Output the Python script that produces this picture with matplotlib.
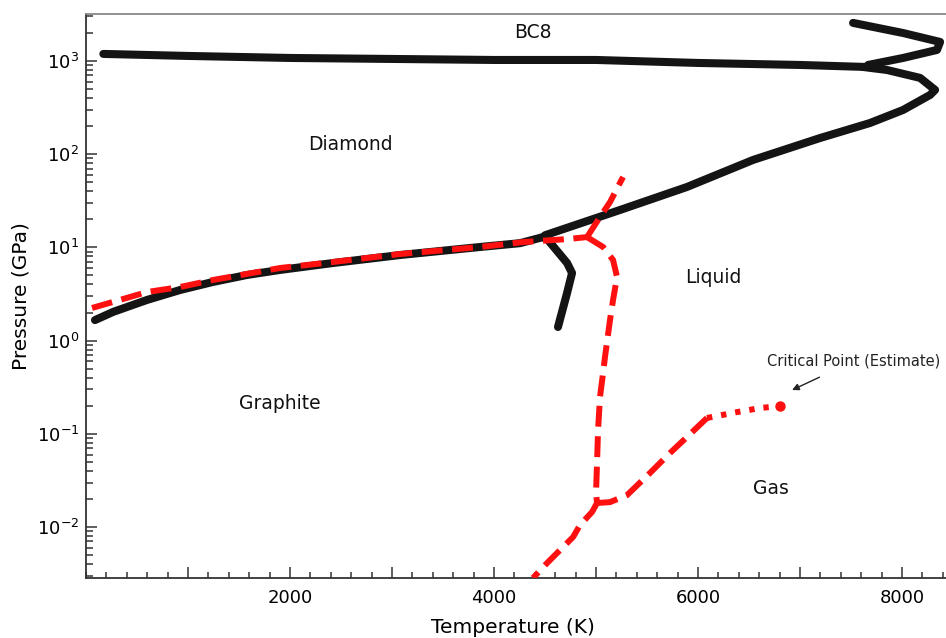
import math
import matplotlib
matplotlib.use("Agg")
import matplotlib.pyplot as plt
from matplotlib.ticker import FixedLocator, MultipleLocator, FuncFormatter, LogLocator, NullFormatter

plt.rcParams['font.family'] = ['DejaVu Sans']
plt.rcParams['mathtext.default'] = 'regular'

# ---- data (Temperature K, Pressure GPa) ----
# diamond / BC8 boundary
bc8_T = [170, 1000, 2000, 3000, 4000, 5000, 6000, 7000, 7650]
bc8_P = [1190, 1132, 1077, 1051, 1025, 1025, 952, 906, 862]
# BC8 / liquid boundary (loop)
bc8liq_T = [7520, 8010, 8373, 8343, 8010, 7667]
bc8liq_P = [2560, 1995, 1600, 1313, 1077, 906]
# diamond / liquid boundary
dliq_T = [7618, 7853, 8177, 8324, 8275, 8010, 7686, 7196, 6539, 5892, 5235, 4500]
dliq_P = [862, 800, 658, 489, 432, 298, 216, 149, 86.7, 44.5, 25.2, 13.5]
# graphite / diamond boundary (black)
gd_T = [88, 265, 598, 922, 1245, 1578, 1902, 2422, 3078, 3863, 4255, 4480]
gd_P = [1.66, 2.03, 2.73, 3.49, 4.26, 5.06, 5.73, 6.80, 8.28, 10.1, 11.1, 12.9]
# graphite / liquid boundary (black)
gl_T = [4480, 4529, 4716, 4765, 4716, 4627]
gl_P = [12.9, 12.0, 6.81, 5.31, 3.24, 1.40]

# red dashed: graphite / diamond
rgd_T = [59, 265, 598, 922, 1245, 1578, 1902, 2422, 3078, 3863, 4284, 4725, 4912]
rgd_P = [2.24, 2.60, 3.32, 3.76, 4.47, 5.19, 6.01, 6.97, 8.49, 10.1, 11.4, 12.3, 12.9]
# red dashed: upward branch from triple point
rup_T = [4912, 5039, 5137, 5265]
rup_P = [12.9, 21.2, 30.6, 56.9]
# red dashed: melting line down to liquid-gas-graphite point
rmelt_T = [4912, 5069, 5167, 5206, 5167, 5137, 5088, 5069, 5039, 5020, 5010, 5000, 5010]
rmelt_P = [12.9, 10.1, 7.33, 4.81, 2.73, 1.66, 0.667, 0.449, 0.248, 0.110, 0.0486, 0.0232, 0.0181]
# red dashed: sublimation line
rsub_T = [5010, 4961, 4843, 4775, 4647, 4520, 4382]
rsub_P = [0.0181, 0.0145, 0.0105, 0.00781, 0.00566, 0.00411, 0.00284]
# red dashed: vaporization line
rvap_T = [5010, 5137, 5304, 5529, 5725, 5892, 6088]
rvap_P = [0.0181, 0.0185, 0.0220, 0.0380, 0.0622, 0.0925, 0.148]
# red dotted: extrapolation to critical point
rdot_T = [6088, 6382, 6608, 6804]
rdot_P = [0.148, 0.171, 0.189, 0.199]
crit_T, crit_P = 6804, 0.199

region_labels = ["BC8", "Diamond", "Liquid", "Graphite", "Gas"]
region_T = [4382, 2588, 6147, 1902, 6716]
region_P = [1997, 128, 4.81, 0.209, 0.0262]

xticks_major = [1000, 2000, 3000, 4000, 5000, 6000, 7000, 8000]

# ---- figure ----
fig = plt.figure(figsize=(9.46, 6.38), dpi=100)
ax = fig.add_axes([86/946, 1-578/638, 1-86/946, (578-14)/638])
ax.set_yscale('log')
ax.set_xlim(0, 8431)
ax.set_ylim(0.00284, 3190)

blk = dict(color='#141414', lw=5.8, solid_capstyle='round', solid_joinstyle='round', zorder=2)
ax.plot(bc8_T, bc8_P, **blk)
ax.plot(bc8liq_T, bc8liq_P, **blk)
ax.plot(dliq_T, dliq_P, **blk)
ax.plot(gd_T, gd_P, **blk)
ax.plot(gl_T, gl_P, **blk)

red = '#ff1010'
rd = dict(color=red, lw=4.3, linestyle=(0, (3.5, 1.6)), dash_capstyle='butt', zorder=3)
ax.plot(rgd_T, rgd_P, **rd)
ax.plot(rup_T, rup_P, **rd)
ax.plot(rmelt_T, rmelt_P, **rd)
ax.plot(rsub_T, rsub_P, **rd)
ax.plot(rvap_T, rvap_P, **rd)
ax.plot(rdot_T, rdot_P, color=red, lw=4.3, linestyle=(0, (0.9, 1.5)), dash_capstyle='butt', zorder=3)
ax.plot([crit_T], [crit_P], 'o', color=red, ms=6.5, zorder=4)

for lab, t, p in zip(region_labels, region_T, region_P):
    ax.text(t, p, lab, fontsize=13.5, ha='center', va='center', color='#111111')

ax.annotate("Critical Point (Estimate)", xy=(6922, 0.295), xytext=(7529, 0.604),
            fontsize=10.5, ha='center', va='center', color='#222222',
            arrowprops=dict(arrowstyle='-|>', color='#222222', lw=1.0,
                            mutation_scale=10, shrinkA=10, shrinkB=0))

# axes styling
for s in ['left', 'bottom']:
    ax.spines[s].set_color('#333333')
    ax.spines[s].set_linewidth(1.3)
ax.spines['top'].set_color('#888888')
ax.spines['top'].set_linewidth(1.3)
ax.spines['right'].set_visible(False)

ax.xaxis.set_major_locator(FixedLocator(xticks_major))
ax.xaxis.set_minor_locator(MultipleLocator(200))
ax.xaxis.set_major_formatter(FuncFormatter(lambda v, p: f"{int(v)}" if int(v) % 2000 == 0 else ""))
ax.yaxis.set_major_locator(LogLocator(base=10, numticks=20))
ax.yaxis.set_minor_locator(LogLocator(base=10, subs=range(2, 10), numticks=20))
ax.yaxis.set_minor_formatter(NullFormatter())
ax.yaxis.set_major_formatter(FuncFormatter(lambda v, p: r"$10^{%d}$" % round(math.log10(v))))

ax.tick_params(which='both', direction='in', top=False, right=False, color='#333333', width=1.1)
ax.tick_params(axis='x', which='major', length=8, pad=8, labelsize=13)
ax.tick_params(axis='x', which='minor', length=4.5)
ax.tick_params(axis='y', which='major', length=8, pad=5, labelsize=13)
ax.tick_params(axis='y', which='minor', length=5)

ax.set_xlabel("Temperature (K)", fontsize=14.5)
ax.set_ylabel("Pressure (GPa)", fontsize=14.5)
ax.xaxis.set_label_coords(0.4965, -0.071)
ax.yaxis.set_label_coords(-0.064, 0.5)

fig.savefig("out.png", dpi=100)
